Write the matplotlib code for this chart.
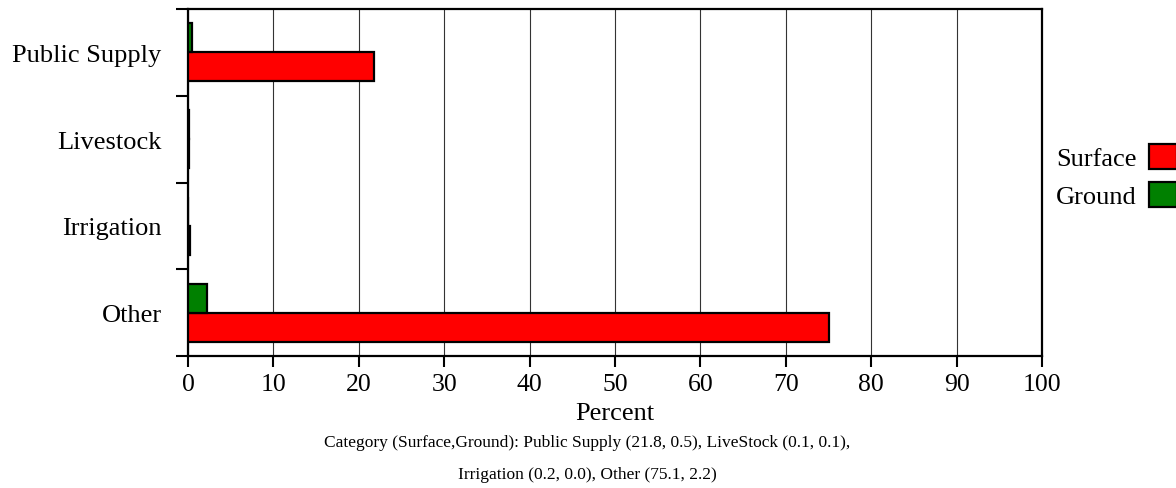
import numpy as np
import matplotlib.pyplot as plt
from matplotlib.ticker import FixedLocator

categories = ['Public Supply', 'Livestock', 'Irrigation', 'Other']
surface = [21.8, 0.1, 0.2, 75.1]
ground = [0.5, 0.1, 0.0, 2.2]
xticks = [0, 10, 20, 30, 40, 50, 60, 70, 80, 90, 100]
caption = ('Category (Surface,Ground): Public Supply (21.8, 0.5), LiveStock (0.1, 0.1),\n'
           'Irrigation (0.2, 0.0), Other (75.1, 2.2)')

plt.rcParams['font.family'] = ['Liberation Serif', 'DejaVu Serif']

W, H = 1176, 489
fig = plt.figure(figsize=(W / 100, H / 100), dpi=100)
ax = fig.add_axes([188 / W, 1 - 357 / H, (1042 - 188) / W, (357 - 10) / H])

y = np.arange(len(categories))
bh = 1 / 3
ax.barh(y + bh / 2, surface, height=bh, color='#ff0000', edgecolor='black',
        linewidth=1.6, label='Surface', zorder=3)
ax.barh(y - bh / 2, ground, height=bh, color='#008000', edgecolor='black',
        linewidth=1.6, label='Ground', zorder=3)

ax.set_xlim(0, 100)
ax.set_ylim(len(categories) - 0.5, -0.5)
ax.set_xticks(xticks)
ax.set_yticks(y)
ax.set_yticklabels(categories)
ax.yaxis.set_minor_locator(FixedLocator(np.arange(-0.5, len(categories), 1.0)))
ax.tick_params(axis='y', which='major', length=0, pad=19, labelsize=19)
ax.tick_params(axis='y', which='minor', length=8.5, width=1.5, direction='out')
ax.tick_params(axis='x', which='major', length=8, width=1.5, direction='out',
               labelsize=18.5, pad=4)
for s in ax.spines.values():
    s.set_linewidth(1.6)
ax.grid(axis='x', color='#333333', linewidth=0.8, zorder=0)
ax.set_axisbelow(True)

ax.set_xlabel('Percent', fontsize=19, labelpad=5)

fig.legend(*ax.get_legend_handles_labels(), loc='center right',
           bbox_to_anchor=(1177 / W, 1 - 177 / H), frameon=False,
           markerfirst=False, fontsize=19, handlelength=1.07, handleheight=1.1,
           handletextpad=0.45, labelspacing=0.42, borderaxespad=0, borderpad=0)

fig.text(587 / W, 1 - 459 / H, caption, ha='center', va='center',
         fontsize=12.5, linespacing=2.3)

fig.savefig('out.png', dpi=100)
